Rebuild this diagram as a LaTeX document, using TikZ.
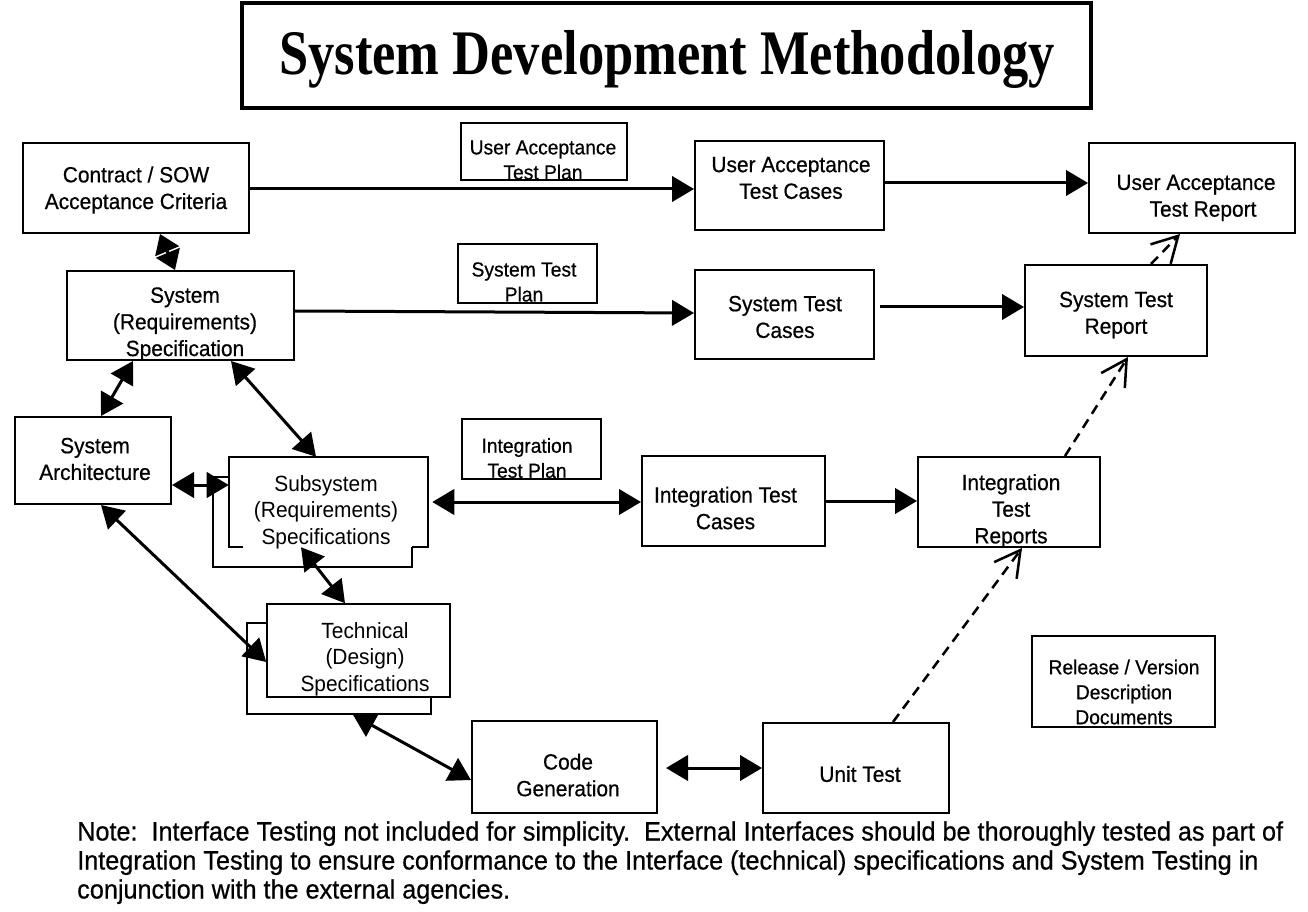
\documentclass[tikz,border=0pt]{standalone}
\usepackage{fontspec}
\setmainfont{Liberation Sans}[FakeStretch=0.95,FakeBold=0.6]
\newfontfamily\lightfont{Liberation Sans}[FakeStretch=0.95]
\newfontfamily\titlefont{Liberation Serif}[FakeStretch=0.827]
\usetikzlibrary{arrows.meta,calc}
\tikzset{
  bigtri/.tip={Triangle[length=16.5pt,width=19pt]},
  midtri/.tip={Triangle[length=14pt,width=19pt]},
  barb/.tip={Straight Barb[length=19pt,width=21pt]},
}
\begin{document}
\begin{tikzpicture}[x=0.75pt,y=-0.75pt,
  bx/.style 2 args={minimum width=#1*0.75pt, minimum height=#2*0.75pt, inner sep=0pt},
  box/.style={draw, line width=1.5pt},
  thinbox/.style={draw, line width=1.2pt, fill=white},
  txt/.style={align=center, inner sep=0pt, font=\fontsize{16.5pt}{20pt}\selectfont},
  stxt/.style={align=center, inner sep=0pt, font=\fontsize{15.2pt}{18.75pt}\selectfont},
  ltxt/.style={align=center, inner sep=0pt, font=\lightfont\fontsize{16.5pt}{20pt}\selectfont},
  stri/.style={line width=2.25pt, -bigtri},
  dtri/.style={line width=2.25pt, bigtri-bigtri},
  dbarb/.style={line width=1.9pt, dash pattern=on 7.5pt off 5pt, -barb},
]
\useasboundingbox (0,0) rectangle (1308,912);

% title
\node[box, bx={849}{105}, line width=2.6pt] (title) at (666.5,55.5) {};
\node[inner sep=0pt, anchor=base, font=\titlefont\bfseries\fontsize{47.6pt}{50pt}\selectfont] (titleT) at (667,75) {System Development Methodology};

% boxes
\node[box, bx={226}{90}] (contract) at (136,188) {};
\node[txt] (contractT) at (136,190) {Contract / SOW\\Acceptance Criteria};

\node[box, bx={166}{57}] (uatplan) at (544,151.5) {};
\node[stxt] (uatplanT) at (543,160) {User Acceptance\\Test Plan};

\node[box, bx={189}{89}] (uatcases) at (789.5,185.5) {};
\node[txt] (uatcasesT) at (791,178) {User Acceptance\\Test Cases};

\node[box, bx={206}{90}] (uatreport) at (1192,188) {};
\node[txt] (uatreportT) at (1196,198) {User Acceptance\\\hspace*{10.5pt}Test Report};

\node[box, bx={139}{59}] (stplan) at (527.5,273.5) {};
\node[stxt] (stplanT) at (524,282) {System Test\\Plan};

\node[box, bx={227}{89}] (sysspec) at (180.5,315.5) {};
\node[txt] (sysspecT) at (185,324) {System\\(Requirements)\\Specification};

\node[box, bx={179}{89}] (stcases) at (784.5,314.5) {};
\node[txt] (stcasesT) at (785,317) {System Test\\Cases};

\node[box, bx={182}{91}] (streport) at (1116,310.5) {};
\node[txt] (streportT) at (1116,315) {System Test\\Report};

\node[box, bx={139}{60}] (itplan) at (531.5,449) {};
\node[stxt] (itplanT) at (527,458) {Integration\\Test Plan};

\node[box, bx={156}{87}] (sysarch) at (93,460.5) {};
\node[txt] (sysarchT) at (95,459) {System\\Architecture};

% subsystem (stacked)
\node[thinbox, bx={199}{90}] (subsysB) at (312.5,522) {};
\node[fill=white, bx={199}{90}] (subsys) at (328.5,502) {};
\draw[line width=1.2pt] ($(subsys.south west)+(14,0)$) -- (subsys.south west) -- (subsys.north west)
  -- (subsys.north east) -- (subsys.south east) -- ($(subsys.south east)+(-16,0)$);
\node[ltxt] (subsysT) at (326,512) {Subsystem\\(Requirements)\\Specifications};

% technical (stacked)
\node[thinbox, bx={184}{91}] (techB) at (339,668.5) {};
\node[thinbox, bx={183}{93}] (tech) at (358.5,650.5) {};
\node[ltxt] (techT) at (365,659) {Technical\\(Design)\\Specifications};

\node[box, bx={183}{90}] (itcases) at (733.5,501) {};
\node[txt] (itcasesT) at (725.5,508) {Integration Test\\Cases};

\node[box, bx={182}{90}] (itreport) at (1009,502) {};
\node[txt] (itreportT) at (1011,511) {Integration\\Test\\Reports};

\node[box, bx={185}{92}] (codegen) at (564.5,767) {};
\node[txt] (codegenT) at (568,775) {Code\\Generation};

\node[box, bx={186}{90}] (unittest) at (856,768) {};
\node[txt] (unittestT) at (860,774) {Unit Test};

\node[box, bx={183}{91}] (release) at (1123.5,681.5) {};
\node[stxt] (releaseT) at (1124,692) {Release / Version\\Description\\Documents};

% connectors
\draw[line width=2.25pt, midtri-midtri] (160,0 |- contract.south) -- (175,0 |- sysspec.north);
\draw[dtri] (133,0 |- sysspec.south) -- (101,0 |- sysarch.north);
\draw[dtri] (231,0 |- sysspec.south) -- (316,0 |- subsys.north);
\draw[dtri] (sysarch.east |- 0,485) -- (subsys.west |- 0,485);
\draw[dtri] (101,0 |- sysarch.south) -- (tech.west |- 0,662);
\draw[dtri] (301,0 |- subsys.south) -- (345,0 |- tech.north);
\draw[dtri] (353,0 |- techB.south) -- (codegen.west |- 0,780);
\draw[dtri] ($(subsys.east |- 0,502)+(4,0)$) -- (itcases.west |- 0,502);
\draw[dtri] ($(codegen.east |- 0,768)+(8,0)$) -- (unittest.west |- 0,768);

\draw[stri] (contract.east |- 0,189) -- (uatcases.west |- 0,189);
\draw[stri] (uatcases.east |- 0,183) -- (uatreport.west |- 0,183);
\draw[stri] (sysspec.east |- 0,311) -- (stcases.west |- 0,313);
\draw[stri] ($(stcases.east |- 0,307)+(5,0)$) -- (streport.west |- 0,307);
\draw[stri] (itcases.east |- 0,501) -- (itreport.west |- 0,501);

\draw[dbarb] (1151,0 |- streport.north) -- (1180,0 |- uatreport.south);
\draw[dbarb] (1065,0 |- itreport.north) -- (1128,0 |- streport.south);
\draw[dbarb] (893,0 |- unittest.north) -- (1022,0 |- itreport.south);

% note
\node[anchor=north west, inner sep=0pt, align=left, font=\fontsize{19.9pt}{21.75pt}\selectfont] (note) at (77,821)
 {Note:\ \ Interface Testing not included for simplicity.\ \ External Interfaces should be thoroughly tested as part of\\
  Integration Testing to ensure conformance to the Interface (technical) specifications and System Testing in\\
  conjunction with the external agencies.};
\end{tikzpicture}
\end{document}
